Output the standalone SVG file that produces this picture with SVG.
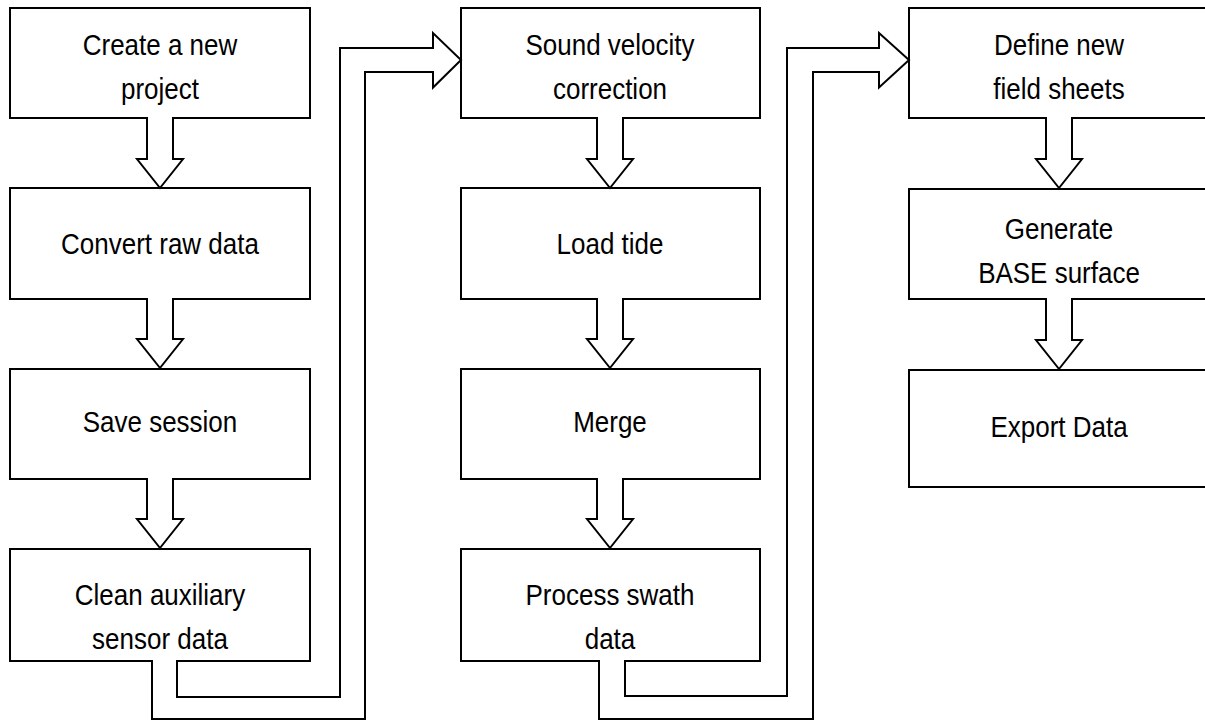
<svg xmlns="http://www.w3.org/2000/svg" width="1205" height="721" viewBox="0 0 1205 721">
<style>
.box{fill:#fff;stroke:#000;stroke-width:2}
.arr{fill:#fff;stroke:#000;stroke-width:2;stroke-linejoin:miter}
.t{font-family:"Liberation Sans",Arial,sans-serif;font-size:26px;fill:#000;text-anchor:middle}
</style>
<rect width="1205" height="721" fill="#fff"/>
<g id="n1"><rect class="box" x="10" y="8" width="300" height="110"/><text class="t" transform="translate(160,55) scale(1,1.14)">Create a new</text><text class="t" transform="translate(160,99) scale(1,1.14)">project</text></g>
<g id="n2"><rect class="box" x="10" y="188" width="300" height="111"/><text class="t" transform="translate(160,254) scale(1,1.14)">Convert raw data</text></g>
<g id="n3"><rect class="box" x="10" y="369" width="300" height="110"/><text class="t" transform="translate(160,432) scale(1,1.14)">Save session</text></g>
<g id="n4"><rect class="box" x="10" y="549" width="300" height="112"/><text class="t" transform="translate(160,605) scale(1,1.14)">Clean auxiliary</text><text class="t" transform="translate(160,649) scale(1,1.14)">sensor data</text></g>
<g id="n5"><rect class="box" x="461" y="8" width="299" height="110"/><text class="t" transform="translate(610,55) scale(1,1.14)">Sound velocity</text><text class="t" transform="translate(610,99) scale(1,1.14)">correction</text></g>
<g id="n6"><rect class="box" x="461" y="188" width="299" height="111"/><text class="t" transform="translate(610,254) scale(1,1.14)">Load tide</text></g>
<g id="n7"><rect class="box" x="461" y="369" width="299" height="110"/><text class="t" transform="translate(610,432) scale(1,1.14)">Merge</text></g>
<g id="n8"><rect class="box" x="461" y="549" width="299" height="112"/><text class="t" transform="translate(610,605) scale(1,1.14)">Process swath</text><text class="t" transform="translate(610,649) scale(1,1.14)">data</text></g>
<g id="n9"><rect class="box" x="909" y="8" width="310" height="110"/><text class="t" transform="translate(1059,55) scale(1,1.14)">Define new</text><text class="t" transform="translate(1059,99) scale(1,1.14)">field sheets</text></g>
<g id="n10"><rect class="box" x="909" y="189" width="310" height="110"/><text class="t" transform="translate(1059,239) scale(1,1.14)">Generate</text><text class="t" transform="translate(1059,283) scale(1,1.14)">BASE surface</text></g>
<g id="n11"><rect class="box" x="909" y="370" width="310" height="117"/><text class="t" transform="translate(1059,437) scale(1,1.14)">Export Data</text></g>
<g id="connectors">
<path class="arr" d="M147,117 V159 H137 L160,188 L183,159 H173 V117"/>
<path class="arr" d="M147,298 V339 H137 L160,368 L183,339 H173 V298"/>
<path class="arr" d="M147,478 V519 H137 L160,548 L183,519 H173 V478"/>
<path class="arr" d="M597,117 V159 H587 L610,188 L633,159 H623 V117"/>
<path class="arr" d="M597,298 V339 H587 L610,368 L633,339 H623 V298"/>
<path class="arr" d="M597,478 V519 H587 L610,548 L633,519 H623 V478"/>
<path class="arr" d="M1046,117 V159 H1036 L1059,188 L1082,159 H1072 V117"/>
<path class="arr" d="M1046,298 V340 H1036 L1059,369 L1082,340 H1072 V298"/>
<path class="arr" d="M177,660 V697 H340 V48 H433 V33 L461,60 L433,87.5 V72 H365 V719 H152 V660"/>
<path class="arr" d="M625,660 V696 H787 V48 H879 V33 L909,60 L879,87.5 V72 H813 V719 H599 V660"/>
</g>
</svg>
